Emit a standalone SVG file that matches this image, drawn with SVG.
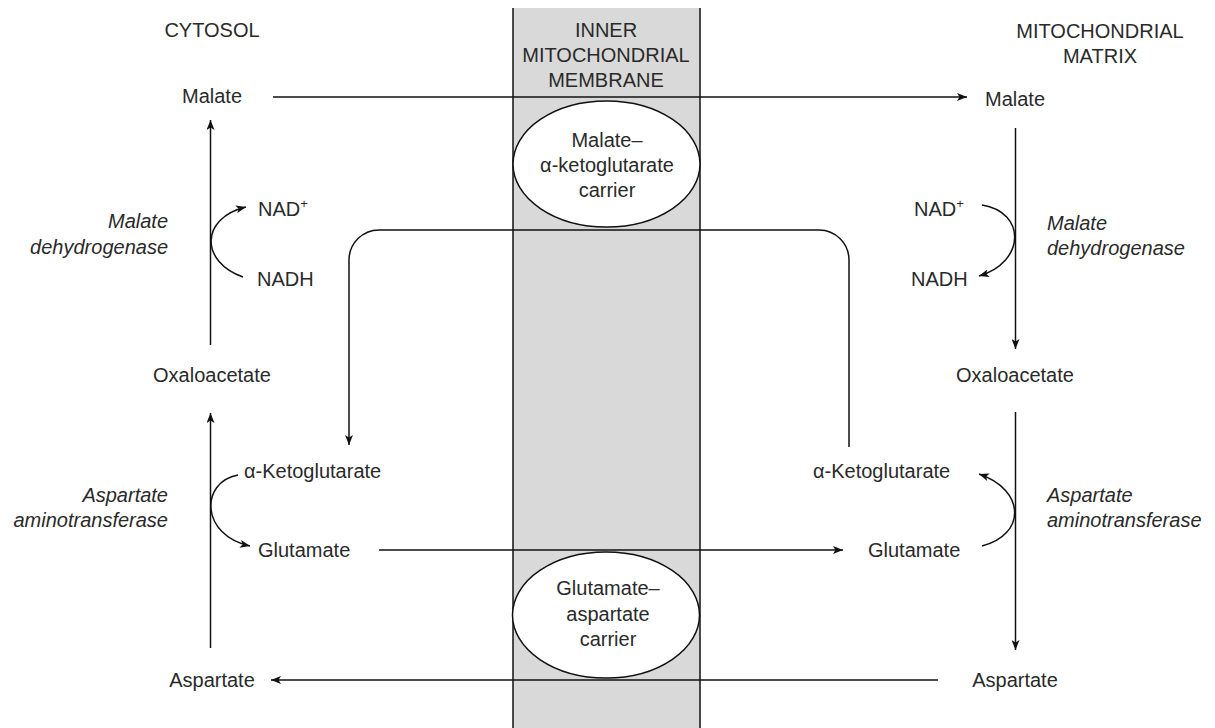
<svg xmlns="http://www.w3.org/2000/svg" width="1215" height="728" viewBox="0 0 1215 728">
<defs>
<marker id="ah" viewBox="0 0 10 8" refX="10" refY="4" markerWidth="10" markerHeight="8" markerUnits="userSpaceOnUse" orient="auto">
<path d="M0,0 L10,4 L0,8 L2.5,4 Z" fill="#111"/>
</marker>
<style>
text{font-family:"Liberation Sans",Arial,sans-serif;font-size:20px;fill:#2a2a2a;}
.c{text-anchor:middle;}
.r{text-anchor:end;}
.i{font-style:italic;}
.ln{fill:none;stroke:#111;stroke-width:1.5;}
.arr{fill:none;stroke:#111;stroke-width:1.5;marker-end:url(#ah);}
.carrier{fill:#fff;stroke:#111;stroke-width:1.5;}
</style>
</defs>
<rect width="1215" height="728" fill="#fff"/>
<g id="membrane">
<rect x="513" y="8" width="187" height="720" fill="#d9d9d9"/>
<line x1="513" y1="8" x2="513" y2="728" class="ln"/>
<line x1="700" y1="8" x2="700" y2="728" class="ln"/>
<text class="c" x="606" y="37">INNER</text>
<text class="c" x="606" y="62">MITOCHONDRIAL</text>
<text class="c" x="606" y="87">MEMBRANE</text>
</g>
<g id="labels">
<text id="cytosol" class="c" x="212" y="37">CYTOSOL</text>
<text id="matrix1" class="c" x="1100" y="38">MITOCHONDRIAL</text>
<text id="matrix2" class="c" x="1100" y="63">MATRIX</text>
</g>
<g id="connectors">
<line x1="273" y1="97" x2="967" y2="97" class="arr"/>
<line x1="379" y1="550" x2="843" y2="550" class="arr"/>
<line x1="938" y1="680" x2="271" y2="680" class="arr"/>
<path d="M849,447 V260 A30,30 0 0 0 819,230 H379 A30,30 0 0 0 349,260 V445" class="arr"/>
<line x1="210.5" y1="345" x2="210.5" y2="120" class="arr"/>
<line x1="210.5" y1="648" x2="210.5" y2="413" class="arr"/>
<line x1="1015.5" y1="128" x2="1015.5" y2="349" class="arr"/>
<line x1="1015.5" y1="412" x2="1015.5" y2="650" class="arr"/>
<path d="M243,277 C200,262 200,218 246,207" class="arr"/>
<path d="M982,205 C1026,212 1026,262 979,276" class="arr"/>
<path d="M238,475 C200,482 200,535 250,546" class="arr"/>
<path d="M982,546 C1026,535 1026,490 979,474" class="arr"/>
</g>
<g id="carrier-mak">
<ellipse cx="606.5" cy="164" rx="93.5" ry="63" class="carrier"/>
<text class="c" x="607" y="147">Malate–</text>
<text class="c" x="607" y="172">α-ketoglutarate</text>
<text class="c" x="607" y="197">carrier</text>
</g>
<g id="carrier-ga">
<ellipse cx="606" cy="615" rx="93.5" ry="63" class="carrier"/>
<text class="c" x="608" y="595">Glutamate–</text>
<text class="c" x="608" y="621">aspartate</text>
<text class="c" x="608" y="646">carrier</text>
</g>
<g id="cyt-malate"><text class="c" x="212" y="103">Malate</text></g>
<g id="cyt-oaa"><text class="c" x="212" y="382">Oxaloacetate</text></g>
<g id="cyt-asp"><text class="c" x="212" y="687">Aspartate</text></g>
<g id="cyt-nad"><text x="258" y="216">NAD<tspan font-size="13" dy="-8">+</tspan></text></g>
<g id="cyt-nadh"><text x="257" y="286">NADH</text></g>
<g id="cyt-akg"><text x="244" y="478">α-Ketoglutarate</text></g>
<g id="cyt-glu"><text x="258" y="557">Glutamate</text></g>
<g id="cyt-mdh"><text class="r i" x="168" y="228">Malate</text><text class="r i" x="168" y="254">dehydrogenase</text></g>
<g id="cyt-ast"><text class="r i" x="168" y="502">Aspartate</text><text class="r i" x="168" y="527">aminotransferase</text></g>
<g id="mit-malate"><text class="c" x="1015" y="106">Malate</text></g>
<g id="mit-oaa"><text class="c" x="1015" y="382">Oxaloacetate</text></g>
<g id="mit-asp"><text class="c" x="1015" y="687">Aspartate</text></g>
<g id="mit-nad"><text x="914" y="216">NAD<tspan font-size="13" dy="-8">+</tspan></text></g>
<g id="mit-nadh"><text x="911" y="286">NADH</text></g>
<g id="mit-akg"><text x="813" y="478">α-Ketoglutarate</text></g>
<g id="mit-glu"><text x="868" y="557">Glutamate</text></g>
<g id="mit-mdh"><text class="i" x="1047" y="230">Malate</text><text class="i" x="1047" y="255">dehydrogenase</text></g>
<g id="mit-ast"><text class="i" x="1047" y="502">Aspartate</text><text class="i" x="1047" y="527">aminotransferase</text></g>
</svg>
